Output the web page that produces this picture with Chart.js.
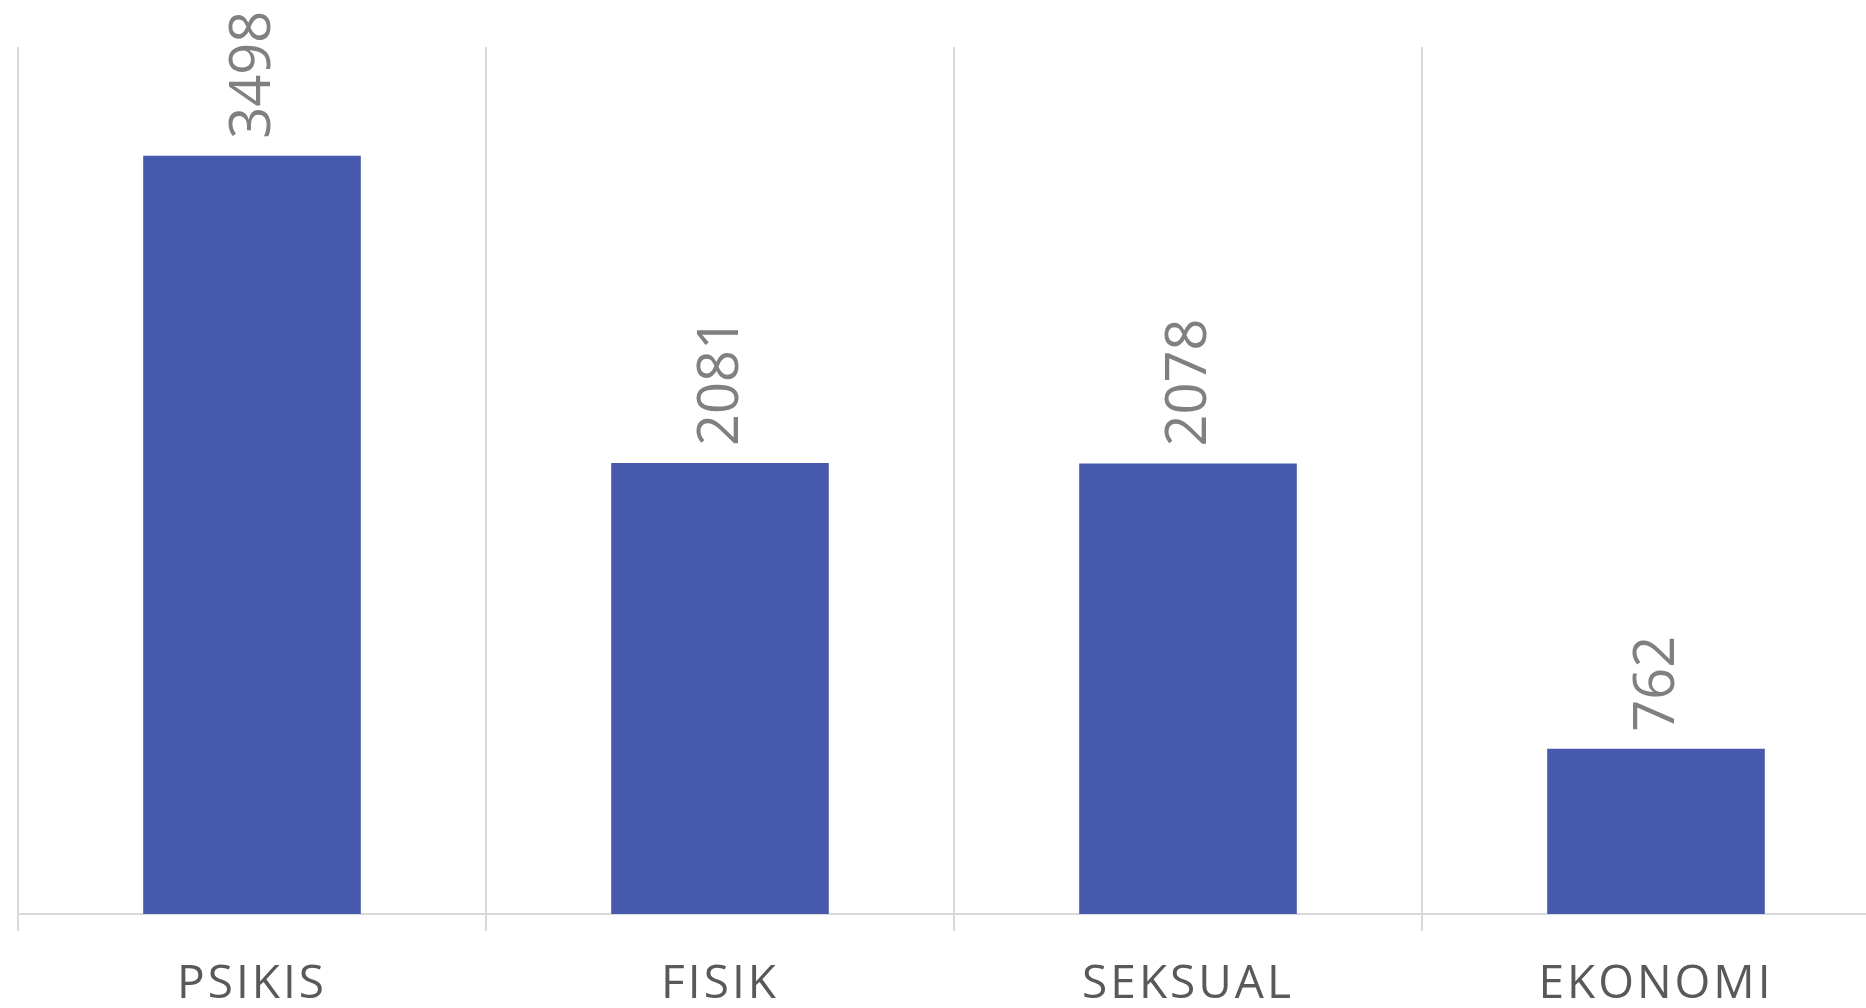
<!DOCTYPE html>
<html>
<head>
<meta charset="utf-8">
<script src="https://cdn.jsdelivr.net/npm/chart.js@4/dist/chart.umd.min.js"></script>
<style>
  html, body { margin: 0; padding: 0; background: #fff; overflow: hidden; }
  #wrap { position: relative; width: 1900px; height: 1008px; }
</style>
</head>
<body>
<div id="wrap"><canvas id="barChart"></canvas></div>
<script>
var kategori = ['PSIKIS', 'FISIK', 'SEKSUAL', 'EKONOMI'];
var jumlah = [3498, 2081, 2078, 762];
var sumbuMax = 4000;

var warnaBatang = '#4759AD';
var warnaGaris = '#D9D9D9';

// labels nilai diputar 90 derajat di atas tiap batang
var labelNilai = {
    id: 'labelNilai',
    beforeDraw: function (chart) {
        chart.ctx.letterSpacing = '3px';
    },
    afterDatasetsDraw: function (chart) {
        var ctx = chart.ctx;
        var meta = chart.getDatasetMeta(0);
        ctx.save();
        ctx.letterSpacing = '0px';
        ctx.font = '56px "Open Sans"';
        ctx.fillStyle = '#808080';
        ctx.textAlign = 'left';
        ctx.textBaseline = 'middle';
        meta.data.forEach(function (bar, i) {
            ctx.save();
            ctx.translate(bar.x + 2, bar.y - 17);
            ctx.rotate(-Math.PI / 2);
            ctx.fillText(String(jumlah[i]), 0, 0);
            ctx.restore();
        });
        ctx.restore();
    }
};

var barCtx = document.getElementById('barChart').getContext('2d');

var barChart = new Chart(barCtx, {
    type: 'bar',
    data: {
        labels: kategori,
        datasets: [{
            data: jumlah,
            backgroundColor: warnaBatang,
            borderWidth: 0,
            barPercentage: 0.465,
            categoryPercentage: 1
        }]
    },
    options: {
        responsive: true,
        maintainAspectRatio: false,
        animation: false,
        layout: { padding: { left: 18, right: 10, top: 47, bottom: 0 } },
        plugins: {
            legend: { display: false },
            tooltip: { enabled: false }
        },
        scales: {
            x: {
                grid: {
                    color: warnaGaris,
                    lineWidth: 2,
                    tickLength: 17,
                    offset: true
                },
                border: { color: warnaGaris, width: 2 },
                ticks: {
                    color: '#595959',
                    font: { family: '"Open Sans"', size: 46 },
                    padding: 26,
                    maxRotation: 0
                },
                afterFit: function (scale) { scale.height = 94; }
            },
            y: {
                display: false,
                min: 0,
                max: sumbuMax
            }
        }
    },
    plugins: [labelNilai]
});
</script>
</body>
</html>
